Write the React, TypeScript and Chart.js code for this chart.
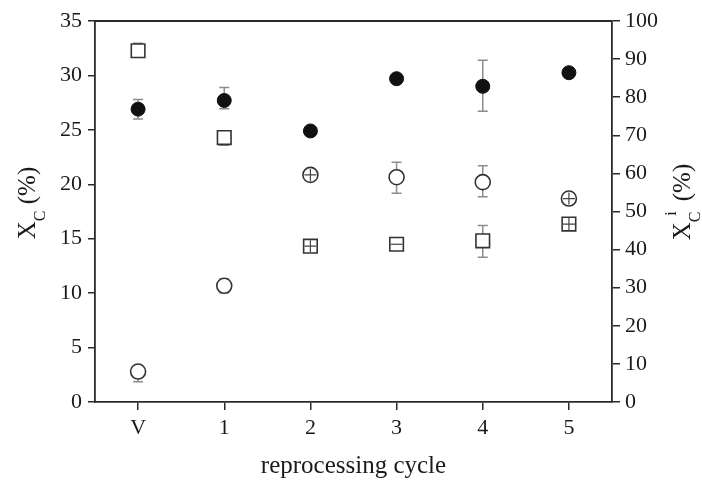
import React, { useEffect, useRef } from "react";
import { Chart, registerables } from "chart.js";

Chart.register(...registerables);

const categories = ["V", "1", "2", "3", "4", "5"];

// X_C (%) — left axis, filled circles
const xcValues = [26.9, 27.7, 24.9, 29.7, 29.0, 30.25];
const xcErrUp = [0.9, 1.2, 0, 0, 2.4, 0];
const xcErrDown = [0.9, 0.75, 0, 0, 2.3, 0];

// X_C^i (%) — right axis, open circles
const xciCircle = [8.0, 30.5, 59.6, 59.0, 57.7, 53.4];
const circleErrUp = [1.5, 1.8, 0, 3.9, 4.3, 0];
const circleErrDown = [2.7, 1.8, 0, 4.2, 3.8, 0];
const circleMarks = ["", "", "+", "", "", "+"];

// X_C^i (%) — right axis, open squares
const xciSquare = [92.2, 69.4, 40.9, 41.4, 42.3, 46.7];
const squareErrUp = [1.95, 1.5, 0, 1.0, 4.0, 0];
const squareErrDown = [1.5, 2.0, 0, 1.0, 4.3, 0];
const squareMarks = ["", "", "+", "-", "", "+"];

const leftMin = 0, leftMax = 35, leftStep = 5;
const rightMin = 0, rightMax = 100, rightStep = 10;

const xTitle = "reprocessing cycle";

const FONT = '"Liberation Serif", "Times New Roman", serif';
const AXIS = "#2a2a2a";
const ERR = "#8c8c8c";

const decorPlugin = {
  id: "decor",
  beforeDatasetsDraw(chart: any) {
    const ctx = chart.ctx;
    const x = chart.scales.x;
    const y = chart.scales.y;
    const y2 = chart.scales.y2;
    const cap = 5;
    ctx.save();
    ctx.strokeStyle = ERR;
    ctx.lineWidth = 1.5;
    const drawErr = (vals: number[], up: number[], dn: number[], sc: any) => {
      vals.forEach((v, i) => {
        if (!up[i] && !dn[i]) return;
        const px = x.getPixelForValue(i);
        const top = sc.getPixelForValue(v + up[i]);
        const bot = sc.getPixelForValue(v - dn[i]);
        ctx.beginPath();
        ctx.moveTo(px, top);
        ctx.lineTo(px, bot);
        ctx.moveTo(px - cap, top);
        ctx.lineTo(px + cap, top);
        ctx.moveTo(px - cap, bot);
        ctx.lineTo(px + cap, bot);
        ctx.stroke();
      });
    };
    drawErr(xcValues, xcErrUp, xcErrDown, y);
    drawErr(xciCircle, circleErrUp, circleErrDown, y2);
    drawErr(xciSquare, squareErrUp, squareErrDown, y2);
    ctx.restore();
  },
  afterDatasetsDraw(chart: any) {
    const ctx = chart.ctx;
    const x = chart.scales.x;
    const y2 = chart.scales.y2;
    ctx.save();
    ctx.strokeStyle = "#444";
    ctx.lineWidth = 1.2;
    const marks = (vals: number[], m: string[], half: number) => {
      vals.forEach((v, i) => {
        if (!m[i]) return;
        const px = x.getPixelForValue(i);
        const py = y2.getPixelForValue(v);
        ctx.beginPath();
        ctx.moveTo(px - half, py);
        ctx.lineTo(px + half, py);
        if (m[i] === "+") {
          ctx.moveTo(px, py - half);
          ctx.lineTo(px, py + half);
        }
        ctx.stroke();
      });
    };
    marks(xciCircle, circleMarks, 6);
    marks(xciSquare, squareMarks, 6);
    ctx.restore();
  },
  afterDraw(chart: any) {
    const ctx = chart.ctx;
    const a = chart.chartArea;
    ctx.save();
    // top frame line
    ctx.strokeStyle = AXIS;
    ctx.lineWidth = 1.8;
    ctx.beginPath();
    ctx.moveTo(a.left, a.top);
    ctx.lineTo(a.right, a.top);
    ctx.stroke();

    ctx.fillStyle = "#1a1a1a";
    ctx.textBaseline = "alphabetic";
    // x title
    ctx.font = `25px ${FONT}`;
    ctx.textAlign = "center";
    ctx.fillText(xTitle, (a.left + a.right) / 2, 473);

    ctx.textAlign = "left";
    const big = `25px ${FONT}`;
    const small = `16px ${FONT}`;
    // left title: X_C (%)
    ctx.save();
    ctx.translate(35, 203);
    ctx.rotate(-Math.PI / 2);
    ctx.font = big;
    const wX = ctx.measureText("X").width;
    const wP = ctx.measureText(" (%)").width;
    ctx.font = small;
    const wC = ctx.measureText("C").width;
    let start = -(wX + wC + wP) / 2;
    ctx.font = big;
    ctx.fillText("X", start, 0);
    ctx.font = small;
    ctx.fillText("C", start + wX, 10);
    ctx.font = big;
    ctx.fillText(" (%)", start + wX + wC, 0);
    ctx.restore();

    // right title: X_C^i (%)
    ctx.save();
    ctx.translate(690, 202);
    ctx.rotate(-Math.PI / 2);
    ctx.font = big;
    start = -(wX + wC + 4 + wP) / 2;
    ctx.fillText("X", start, 0);
    ctx.font = small;
    ctx.fillText("C", start + wX, 10);
    ctx.fillText("i", start + wX + wC * 0.6, -14);
    ctx.font = big;
    ctx.fillText(" (%)", start + wX + wC + 4, 0);
    ctx.restore();

    ctx.restore();
  },
};

export default function App() {
  const ref = useRef<HTMLCanvasElement | null>(null);
  useEffect(() => {
    document.body.style.margin = "0";
    if (!ref.current) return;
    const tickFont = { family: FONT, size: 22 };
    const chart = new Chart(ref.current, {
      type: "line",
      data: {
        labels: categories,
        datasets: [
          {
            label: "Xc",
            data: xcValues,
            yAxisID: "y",
            showLine: false,
            pointStyle: "circle",
            pointRadius: 7,
            pointBackgroundColor: "#111",
            pointBorderColor: "#111",
            pointBorderWidth: 1,
          },
          {
            label: "Xci circle",
            data: xciCircle,
            yAxisID: "y2",
            showLine: false,
            pointStyle: "circle",
            pointRadius: 7.5,
            pointBackgroundColor: "#fff",
            pointBorderColor: "#333",
            pointBorderWidth: 1.6,
          },
          {
            label: "Xci square",
            data: xciSquare,
            yAxisID: "y2",
            showLine: false,
            pointStyle: "rect",
            pointRadius: 9.6,
            pointBackgroundColor: "#fff",
            pointBorderColor: "#333",
            pointBorderWidth: 1.6,
          },
        ],
      },
      options: {
        animation: false,
        responsive: false,
        layout: { padding: { top: 21, left: 0, right: 0, bottom: 0 } },
        plugins: { legend: { display: false }, tooltip: { enabled: false } },
        scales: {
          x: {
            type: "category",
            offset: true,
            grid: {
              display: true,
              drawOnChartArea: false,
              offset: false,
              tickLength: 8,
              color: AXIS,
              lineWidth: 1.5,
            },
            border: { display: true, color: AXIS, width: 1.8 },
            ticks: { font: tickFont, color: "#1a1a1a", padding: 5, maxRotation: 0 },
            afterFit: (s: any) => {
              s.height = 82;
            },
          },
          y: {
            position: "left",
            min: leftMin,
            max: leftMax,
            grid: {
              display: true,
              drawOnChartArea: false,
              tickLength: 7,
              color: AXIS,
              lineWidth: 1.5,
            },
            border: { display: true, color: AXIS, width: 1.8 },
            ticks: { stepSize: leftStep, font: tickFont, color: "#1a1a1a", padding: 6 },
            afterFit: (s: any) => {
              s.width = 95;
            },
          },
          y2: {
            position: "right",
            min: rightMin,
            max: rightMax,
            grid: {
              display: true,
              drawOnChartArea: false,
              tickLength: 8,
              color: AXIS,
              lineWidth: 1.5,
            },
            border: { display: true, color: AXIS, width: 1.8 },
            ticks: { stepSize: rightStep, font: tickFont, color: "#1a1a1a", padding: 5 },
            afterFit: (s: any) => {
              s.width = 90;
            },
          },
        },
      },
      plugins: [decorPlugin],
    });
    return () => chart.destroy();
  }, []);
  return (
    <div style={{ width: 702, height: 484 }}>
      <canvas ref={ref} width={702} height={484} />
    </div>
  );
}
